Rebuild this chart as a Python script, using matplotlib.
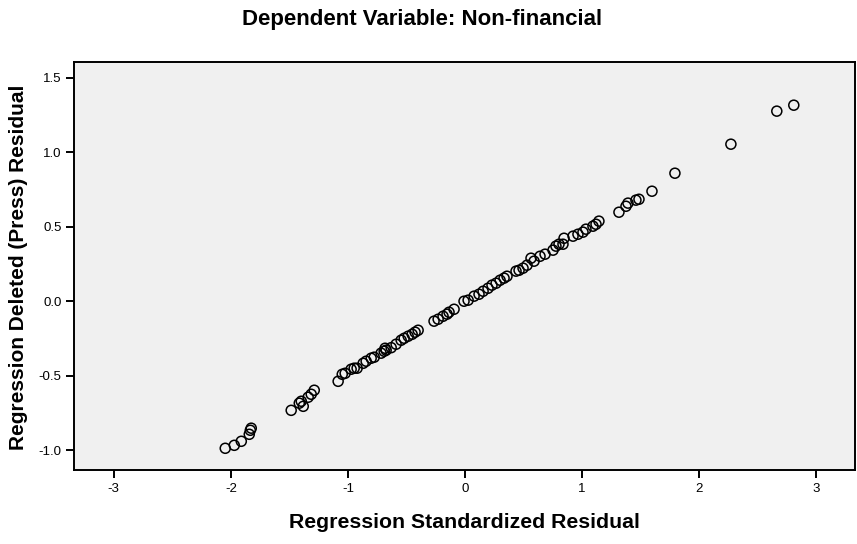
import matplotlib
matplotlib.use("Agg")
import matplotlib.pyplot as plt

plt.rcParams['font.family'] = ['Liberation Sans', 'DejaVu Sans']

# standardized residuals (x) vs deleted (press) residuals (y)
std_resid = [
    -2.048, -1.971, -1.911, -1.843, -1.834, -1.826,
    -1.485, -1.416, -1.399, -1.382, -1.340, -1.314, -1.288,
    -1.084, -1.049, -1.024, -0.973, -0.947, -0.922, -0.870, -0.845,
    -0.802, -0.776, -0.717, -0.691, -0.674, -0.683, -0.631, -0.589,
    -0.546, -0.520, -0.486, -0.452, -0.427, -0.401,
    -0.265, -0.230, -0.188, -0.154, -0.137, -0.094,
    -0.009, 0.026, 0.077, 0.119, 0.154, 0.196, 0.230, 0.265, 0.299,
    0.333, 0.358, 0.435, 0.461, 0.495, 0.529, 0.563, 0.589, 0.640,
    0.683, 0.751, 0.776, 0.802, 0.836, 0.845, 0.922, 0.964, 1.007,
    1.032, 1.092, 1.118, 1.143,
    1.314, 1.374, 1.391, 1.459, 1.485, 1.596, 1.792,
    2.270, 2.662, 2.807,
]
press_resid = [
    -0.988, -0.968, -0.941, -0.894, -0.867, -0.853,
    -0.733, -0.685, -0.672, -0.706, -0.645, -0.625, -0.598,
    -0.538, -0.491, -0.484, -0.457, -0.450, -0.450, -0.417, -0.403,
    -0.383, -0.376, -0.349, -0.336, -0.329, -0.316, -0.312, -0.289,
    -0.262, -0.249, -0.235, -0.222, -0.208, -0.195,
    -0.134, -0.121, -0.101, -0.087, -0.074, -0.054,
    0.000, 0.007, 0.034, 0.047, 0.067, 0.087, 0.108, 0.121, 0.141,
    0.155, 0.168, 0.202, 0.208, 0.222, 0.242, 0.289, 0.269, 0.302,
    0.316, 0.343, 0.370, 0.383, 0.383, 0.423, 0.437, 0.450, 0.464,
    0.484, 0.504, 0.517, 0.538,
    0.598, 0.638, 0.659, 0.679, 0.685, 0.739, 0.860,
    1.055, 1.277, 1.317,
]

x_ticks = [-3, -2, -1, 0, 1, 2, 3]
y_ticks = [-1.0, -0.5, 0.0, 0.5, 1.0, 1.5]

fig = plt.figure(figsize=(8.57, 5.44), dpi=100)
ax = fig.add_axes([0.0863, 0.136, 0.9114, 0.750])
ax.set_facecolor('#F0F0F0')

ax.scatter(std_resid, press_resid, s=52, facecolors='none',
           edgecolors='black', linewidths=1.1, zorder=3)

ax.set_xlim(-3.34, 3.33)
ax.set_ylim(-1.134, 1.607)
ax.set_xticks(x_ticks)
ax.set_xticklabels([str(t) for t in x_ticks])
ax.set_yticks(y_ticks)
ax.set_yticklabels([f'{t:.1f}' for t in y_ticks])
ax.tick_params(direction='out', length=6, width=1.4, labelsize=9.5,
               colors='black', pad=3)
for sp in ax.spines.values():
    sp.set_linewidth(1.4)
    sp.set_color('black')

# titles placed in figure coordinates
fig.text(422 / 857, 1 - 20 / 544, 'Dependent Variable: Non-financial',
         ha='center', va='center', fontsize=16, fontweight='bold')
fig.text(464 / 857, 1 - 523 / 544, 'Regression Standardized Residual',
         ha='center', va='center', fontsize=15.3, fontweight='bold')
fig.text(19 / 857, 1 - 267 / 544, 'Regression Deleted (Press) Residual',
         ha='center', va='center', rotation=90, fontsize=15,
         fontweight='bold')

fig.savefig('out.png', dpi=100)
